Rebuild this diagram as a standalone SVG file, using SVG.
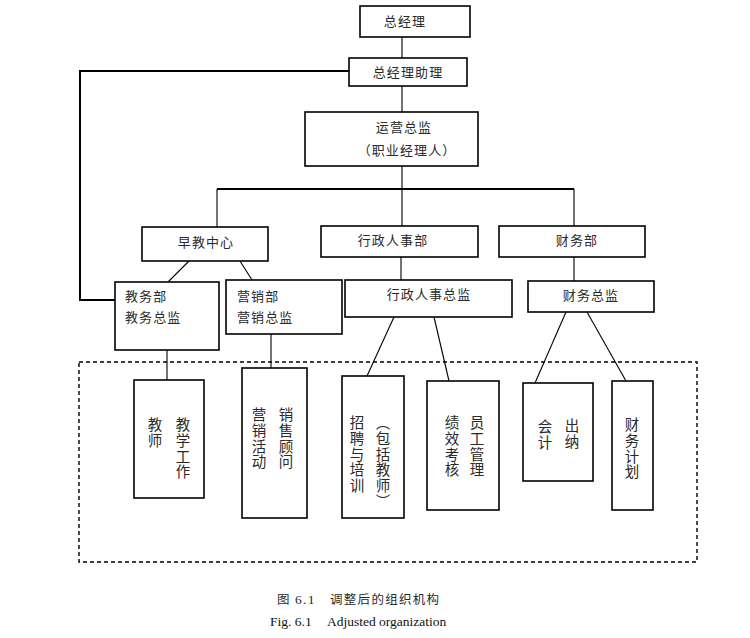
<svg xmlns="http://www.w3.org/2000/svg" width="750" height="638" viewBox="0 0 750 638">
<style>
.box{fill:#fff;stroke:#000;stroke-width:1.6}
.t{font-family:"Noto Sans CJK SC","Liberation Sans",sans-serif;font-size:13px;fill:#2a2a2a;letter-spacing:1.1px}
.c{text-anchor:middle}
.v{font-family:"Noto Sans CJK SC","Liberation Sans",sans-serif;font-size:14.5px;fill:#2a2a2a;letter-spacing:1.4px;writing-mode:vertical-rl}
.ln{stroke:#000;stroke-width:1.1;fill:none}
.lnb{stroke:#000;stroke-width:2;fill:none}
.dash{fill:none;stroke:#000;stroke-width:1.4;stroke-dasharray:4 3}
.cap{font-family:"Noto Sans CJK SC","Liberation Serif",serif;font-size:12.5px;fill:#2a2a2a;letter-spacing:1.3px}
.capen{font-family:"Liberation Serif",serif;font-size:13.5px;fill:#111}
</style>
<rect width="750" height="638" fill="#fff"/>
<g id="connectors">
<line class="ln" x1="402" y1="37" x2="402" y2="58"/>
<line class="ln" x1="402" y1="86" x2="402" y2="112"/>
<polyline class="lnb" points="349,71 80,71 80,300 115,300"/>
<line class="ln" x1="402" y1="166" x2="402" y2="226"/>
<line class="lnb" x1="217" y1="189" x2="574" y2="189"/>
<line class="ln" x1="217" y1="189" x2="217" y2="227"/>
<line class="ln" x1="574" y1="189" x2="574" y2="226"/>
<line class="ln" x1="189" y1="261" x2="168" y2="282"/>
<line class="ln" x1="240" y1="261" x2="252" y2="280"/>
<line class="ln" x1="401" y1="257" x2="401" y2="280"/>
<line class="ln" x1="574" y1="257" x2="574" y2="281"/>
<line class="ln" x1="167" y1="350" x2="167" y2="380"/>
<line class="ln" x1="271" y1="334" x2="271" y2="368"/>
<line class="ln" x1="394" y1="317" x2="367" y2="376"/>
<line class="ln" x1="434" y1="317" x2="449" y2="381"/>
<line class="ln" x1="566" y1="312" x2="535" y2="383"/>
<line class="ln" x1="587" y1="312" x2="626" y2="381"/>
</g>
<rect id="scope" class="dash" x="79" y="362" width="618" height="200"/>
<g id="n-gm"><rect class="box" x="360" y="6" width="110" height="31"/><text class="t c" x="405" y="26">总经理</text></g>
<g id="n-asst"><rect class="box" x="349" y="58" width="118" height="28"/><text class="t c" x="408" y="77">总经理助理</text></g>
<g id="n-ops"><rect class="box" x="305" y="112" width="173" height="54"/><text class="t c" x="404" y="132">运营总监</text><text class="t c" x="407" y="155">（职业经理人）</text></g>
<g id="n-early"><rect class="box" x="142" y="227" width="126" height="34"/><text class="t c" x="206" y="247">早教中心</text></g>
<g id="n-hr"><rect class="box" x="321" y="226" width="157" height="31"/><text class="t c" x="393" y="245">行政人事部</text></g>
<g id="n-fin"><rect class="box" x="499" y="226" width="146" height="31"/><text class="t c" x="577" y="245">财务部</text></g>
<g id="n-edu"><rect class="box" x="115" y="282" width="104" height="68"/><text class="t" x="125" y="301">教务部</text><text class="t" x="125" y="322">教务总监</text></g>
<g id="n-sales"><rect class="box" x="226" y="280" width="116" height="54"/><text class="t" x="237" y="301">营销部</text><text class="t" x="237" y="322">营销总监</text></g>
<g id="n-hrdir"><rect class="box" x="345" y="280" width="167" height="37"/><text class="t c" x="429" y="299">行政人事总监</text></g>
<g id="n-findir"><rect class="box" x="528" y="281" width="126" height="31"/><text class="t c" x="591" y="300">财务总监</text></g>
<g id="n-teach"><rect class="box" x="134" y="380" width="70" height="118"/><text class="v" x="183" y="417">教学工作</text><text class="v" x="155" y="417">教师</text></g>
<g id="n-mkt"><rect class="box" x="242" y="368" width="65" height="150"/><text class="v" x="286" y="407">销售顾问</text><text class="v" x="259" y="407">营销活动</text></g>
<g id="n-recruit"><rect class="box" x="342" y="376" width="62" height="142"/><text class="v" x="383" y="415">（包括教师）</text><text class="v" x="357" y="415">招聘与培训</text></g>
<g id="n-perf"><rect class="box" x="427" y="381" width="72" height="129"/><text class="v" x="477" y="415">员工管理</text><text class="v" x="452" y="415">绩效考核</text></g>
<g id="n-acct"><rect class="box" x="523" y="383" width="70" height="98"/><text class="v" x="572" y="418">出纳</text><text class="v" x="545" y="419">会计</text></g>
<g id="n-plan"><rect class="box" x="612" y="381" width="41" height="129"/><text class="v" x="632" y="417">财务计划</text></g>
<g id="caption">
<text class="cap" x="277" y="604">图 <tspan font-family="Liberation Serif" font-size="13.5px">6.1</tspan></text>
<text class="cap" x="330" y="604">调整后的组织机构</text>
<text class="capen" x="270" y="626">Fig. 6.1</text>
<text class="capen" x="327" y="626">Adjusted organization</text>
</g>
</svg>
